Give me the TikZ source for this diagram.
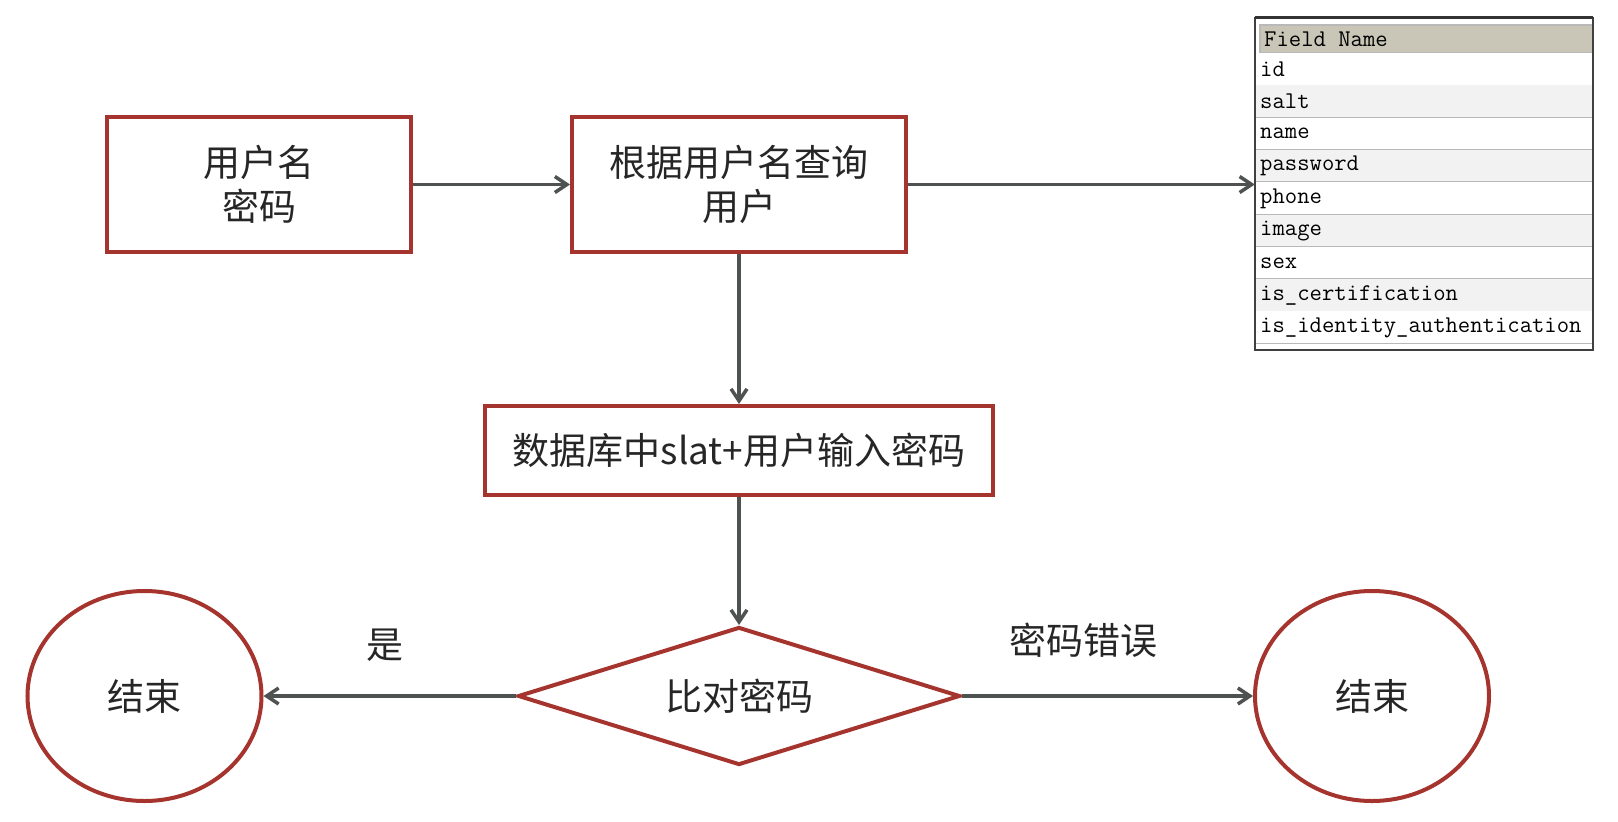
\documentclass[tikz,border=0pt]{standalone}
\usepackage{fontspec}
\newfontfamily\cjk{Noto Sans CJK SC}
\usetikzlibrary{arrows.meta,shapes.geometric}
\definecolor{boxred}{RGB}{166,52,46}
\definecolor{arrowc}{RGB}{78,83,81}
\definecolor{txt}{RGB}{38,38,38}
\definecolor{hdr}{RGB}{201,198,184}
\definecolor{rowg}{RGB}{242,242,242}
\definecolor{sep}{RGB}{185,185,185}
\tikzset{
  stepbox/.style={draw=boxred,line width=4pt,fill=white,inner sep=0pt,align=center,
    text=txt,font=\cjk\fontsize{37}{44}\selectfont},
  decision/.style={stepbox,diamond,aspect=3.2,minimum width=442pt,minimum height=138pt},
  endnode/.style={stepbox,ellipse,minimum width=234pt,minimum height=210pt},
  conn/.style={draw=arrowc,line width=3.5pt,-{Straight Barb[length=12pt,width=16pt,line width=3.5pt]}},
  lbl/.style={text=txt,font=\cjk\fontsize{37}{44}\selectfont,inner sep=0pt},
  fld/.style={anchor=west,inner sep=0pt,text=black,font=\ttfamily\fontsize{24}{24}\selectfont},
}
\begin{document}
\begin{tikzpicture}[x=1pt,y=-1pt]
\useasboundingbox (0,0) rectangle (1618,822);
\fill[white] (0,0) rectangle (1618,822);

% nodes
\node[stepbox,minimum width=304pt,minimum height=135pt] (b1) at (259,184.5) {用户名\\密码};
\node[stepbox,minimum width=334pt,minimum height=135pt] (b2) at (739,184.5) {根据用户名查询\\用户};
\node[stepbox,minimum width=508pt,minimum height=89pt] (b3) at (739,450.5) {数据库中slat+用户输入密码};
\node[decision] (d) at (739,696) {比对密码};
\node[endnode] (e1) at (144.5,696) {结束};
\node[endnode] (e2) at (1372,696) {结束};

% table
\node[draw=none,minimum width=338pt,minimum height=332pt,inner sep=0pt] (tbl) at (1424,184) {};
\fill[hdr] (1260,25) rectangle (1593,53);
\draw[sep,line width=1.5pt] (1260,25) rectangle (1593,53);
\foreach \i/\f in {0/white,1/rowg,2/white,3/rowg,4/white,5/rowg,6/white,7/rowg,8/white}{
  \fill[\f] (1256,{53+32.3*\i}) rectangle (1593,{53+32.3*(\i+1)});
  \draw[sep,line width=1.5pt] (1256,{53+32.3*(\i+1)}) -- (1593,{53+32.3*(\i+1)});
}
\draw[black!75,line width=2pt] (tbl.south west) -- (tbl.north west) -- (tbl.north east) -- (tbl.south east) -- cycle;
\draw[black!80,line width=3pt] (tbl.north west) -- (tbl.north east);
\node[fld] (h) at (1264,39) {Field Name};
\node[fld] (f1) at (1260,{53+32.3*0.5}) {id};
\node[fld] (f2) at (1260,{53+32.3*1.5}) {salt};
\node[fld] (f3) at (1260,{53+32.3*2.5}) {name};
\node[fld] (f4) at (1260,{53+32.3*3.5}) {password};
\node[fld] (f5) at (1260,{53+32.3*4.5}) {phone};
\node[fld] (f6) at (1260,{53+32.3*5.5}) {image};
\node[fld] (f7) at (1260,{53+32.3*6.5}) {sex};
\node[fld] (f8) at (1260,{53+32.3*7.5}) {is\_certification};
\node[fld] (f9) at (1260,{53+32.3*8.5}) {is\_identity\_authentication};

% connectors
\draw[conn] (b1.east) -- (b2.west);
\draw[conn] (b2.east) -- (b2.east -| tbl.west);
\draw[conn] (b2.south) -- (b3.north);
\draw[conn] (b3.south) -- (d.north);
\draw[conn] (d.west) -- (e1.east);
\draw[conn] (d.east) -- (e2.west);

% labels
\node[lbl] (yes) at (385,645) {是};
\node[lbl] (no) at (1083,640) {密码错误};
\end{tikzpicture}
\end{document}
